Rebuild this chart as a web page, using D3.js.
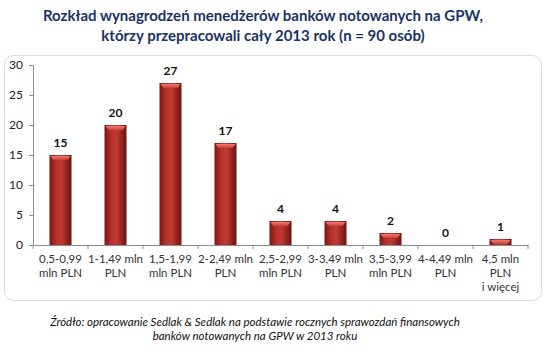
<!DOCTYPE html>
<html>
<head>
<meta charset="utf-8">
<script src="https://cdn.jsdelivr.net/npm/d3@7"></script>
<style>
  body { margin: 0; background: #fff; }
  svg { display: block; }
</style>
</head>
<body>
<div id="chart"></div>
<script>
// data
const categories = [
  ["0,5-0,99", "mln PLN"],
  ["1-1,49 mln", "PLN"],
  ["1,5-1,99", "mln PLN"],
  ["2-2,49 mln", "PLN"],
  ["2,5-2,99", "mln PLN"],
  ["3-3,49 mln", "PLN"],
  ["3,5-3,99", "mln PLN"],
  ["4-4,49 mln", "PLN"],
  ["4,5 mln", "PLN", "i więcej"]
];
const values = [15, 20, 27, 17, 4, 4, 2, 0, 1];
const yTicks = [0, 5, 10, 15, 20, 25, 30];
const titleLines = [
  "Rozkład wynagrodzeń menedżerów banków notowanych na GPW,",
  "którzy przepracowali cały 2013 rok (n = 90 osób)"
];
const sourceLines = [
  "Źródło: opracowanie Sedlak & Sedlak na podstawie rocznych sprawozdań finansowych",
  "banków notowanych na GPW w 2013 roku"
];

const W = 546, H = 352;
const margin = { top: 65, left: 33, right: 18, bottom: 107 };
const width = W - margin.left - margin.right,
  height = H - margin.top - margin.bottom;
const font = "Lato, 'Open Sans', sans-serif";

const svg = d3.select("#chart").append("svg")
  .attr("width", W).attr("height", H);

// gradients for the bars
const defs = svg.append("defs");
const grad = defs.append("linearGradient").attr("id", "barGrad")
  .attr("x1", 0).attr("x2", 1).attr("y1", 0).attr("y2", 0);
grad.append("stop").attr("offset", "0%").attr("stop-color", "#7a1612");
grad.append("stop").attr("offset", "30%").attr("stop-color", "#b8302b");
grad.append("stop").attr("offset", "55%").attr("stop-color", "#c03a33");
grad.append("stop").attr("offset", "100%").attr("stop-color", "#6a1310");
const capGrad = defs.append("linearGradient").attr("id", "capGrad")
  .attr("x1", 0).attr("x2", 0).attr("y1", 0).attr("y2", 1);
capGrad.append("stop").attr("offset", "0%").attr("stop-color", "#f07a70");
capGrad.append("stop").attr("offset", "100%").attr("stop-color", "#c8403a");

// title
svg.append("g").selectAll("text")
  .data(titleLines)
  .join("text")
  .attr("x", 263)
  .attr("y", (d, i) => 21 + i * 20)
  .attr("text-anchor", "middle")
  .style("font-family", font)
  .style("font-weight", "bold")
  .style("font-size", "15px")
  .style("fill", "#1a3366")
  .text(d => d);

// frame
svg.append("rect")
  .attr("x", 4.5).attr("y", 55.5)
  .attr("width", 537).attr("height", 245)
  .attr("rx", 9)
  .attr("fill", "#fff")
  .attr("stroke", "#dcdcdc");

const g = svg.append("g")
  .attr("transform", `translate(${margin.left},${margin.top})`);

const x = d3.scaleBand().domain(d3.range(values.length)).range([0, width]);
const y = d3.scaleLinear().domain([0, 30]).range([height, 0]);
const barW = 22;

// y axis
const yAxis = g.append("g")
  .call(d3.axisLeft(y).tickValues(yTicks).tickSize(4).tickPadding(6));
yAxis.select(".domain").attr("stroke", "#8c8c8c");
yAxis.selectAll(".tick line").attr("stroke", "#8c8c8c");
yAxis.selectAll(".tick text")
  .style("font-family", font)
  .style("font-size", "12px")
  .style("fill", "#222");

// x axis
const xAxis = g.append("g")
  .attr("transform", `translate(0,${height})`)
  .call(d3.axisBottom(x).tickSize(0).tickFormat(""));
xAxis.select(".domain").attr("stroke", "#8c8c8c");
xAxis.selectAll(".tick").remove();
xAxis.selectAll(".sep")
  .data(d3.range(values.length + 1))
  .join("line")
  .attr("x1", i => i * x.bandwidth()).attr("x2", i => i * x.bandwidth())
  .attr("y1", 0).attr("y2", 4)
  .attr("stroke", "#8c8c8c");

// category labels
const labels = g.append("g").selectAll("text")
  .data(categories)
  .join("text")
  .attr("x", (d, i) => x(i) + x.bandwidth() / 2)
  .attr("y", height + 18)
  .attr("text-anchor", "middle")
  .style("font-family", font)
  .style("font-size", "11.5px")
  .style("fill", "#333");
labels.selectAll("tspan")
  .data(d => d)
  .join("tspan")
  .attr("x", function () { return d3.select(this.parentNode).attr("x"); })
  .attr("dy", (d, i) => (i === 0 ? 0 : 14))
  .text(d => d);

// bars
const bars = g.append("g").selectAll("g")
  .data(values)
  .join("g")
  .attr("transform", (d, i) => `translate(${x(i) + (x.bandwidth() - barW) / 2},0)`);

bars.filter(d => d > 0).append("rect")
  .attr("x", 0)
  .attr("y", d => y(d))
  .attr("width", barW)
  .attr("height", d => height - y(d))
  .attr("fill", "url(#barGrad)");

bars.filter(d => d > 0).append("path")
  .attr("d", d => {
    const t = y(d);
    return `M1,${t + 1} L${barW - 1},${t + 1} L${barW - 4},${t + 5} L4,${t + 5} Z`;
  })
  .attr("fill", "url(#capGrad)");

// value labels
bars.append("text")
  .attr("x", barW / 2)
  .attr("y", d => y(d) - 8)
  .attr("text-anchor", "middle")
  .style("font-family", font)
  .style("font-weight", "bold")
  .style("font-size", "12px")
  .style("fill", "#111")
  .text(d => d);

// source
svg.append("g").selectAll("text")
  .data(sourceLines)
  .join("text")
  .attr("x", 255)
  .attr("y", (d, i) => 326 + i * 14)
  .attr("text-anchor", "middle")
  .style("font-family", font)
  .style("font-style", "italic")
  .style("font-size", "11.5px")
  .style("fill", "#111")
  .text(d => d);
</script>
</body>
</html>
